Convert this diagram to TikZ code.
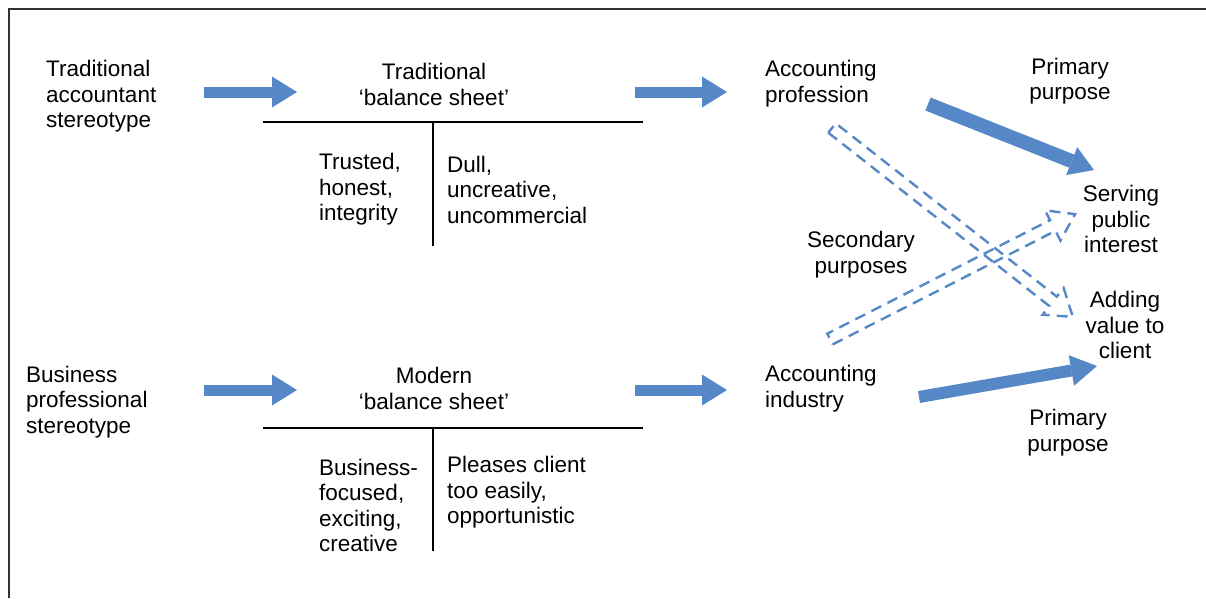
\documentclass[tikz,border=0pt]{standalone}
\usepackage{fontspec}
\setmainfont{Liberation Sans}
\usetikzlibrary{arrows.meta}
\definecolor{arrowblue}{RGB}{86,136,199}
\tikzset{
  txt/.style={inner sep=0pt, font=\fontsize{22.5}{25.5}\selectfont},
  ltxt/.style={txt, anchor=west, align=left},
  ctxt/.style={txt, align=center},
  harrow/.style={draw=arrowblue, line width=11pt,
    -{Triangle[length=25pt,width=31pt,line width=0pt,color=arrowblue]}},
  darrow/.style={draw=arrowblue, line width=14pt,
    -{Triangle[length=24pt,width=30pt,line width=0pt,color=arrowblue]}},
  darrowb/.style={draw=arrowblue, line width=12pt,
    -{Triangle[length=26pt,width=31pt,line width=0pt,color=arrowblue]}},
  hollow/.style={draw=arrowblue, line width=2.4pt, dash pattern=on 11pt off 7pt, line join=miter},
  tline/.style={draw=black, line width=2pt},
  frame/.style={draw=black!80, line width=1.6pt}
}
\begin{document}
\begin{tikzpicture}[x=1pt,y=-1pt]
\useasboundingbox (0,0) rectangle (1206,598);
\draw[frame] (9,598) -- (9,9) -- (1206,9);

% left texts
\node[ltxt] (tas) at (46,96.5) {Traditional\\accountant\\stereotype};
\node[ltxt] (bps) at (26,402) {Business\\professional\\stereotype};

% balance sheets
\node[ctxt] (tbs) at (434,84.5) {Traditional\\‘balance sheet’};
\node[ctxt] (mbs) at (434,388.5) {Modern\\‘balance sheet’};

\coordinate (t1l) at (263,122); \coordinate (t1r) at (643,122);
\coordinate (t1t) at (433,122); \coordinate (t1b) at (433,246);
\draw[tline] (t1l) -- (t1r);
\draw[tline] (t1t) -- (t1b);
\coordinate (t2l) at (263,428); \coordinate (t2r) at (643,428);
\coordinate (t2t) at (433,428); \coordinate (t2b) at (433,551);
\draw[tline] (t2l) -- (t2r);
\draw[tline] (t2t) -- (t2b);

\node[ltxt] (tru) at (319,189.5) {Trusted,\\honest,\\integrity};
\node[ltxt] (dul) at (447,189.5) {Dull,\\uncreative,\\uncommercial};
\node[ltxt] (bus) at (319,505.5) {Business-\\focused,\\exciting,\\creative};
\node[ltxt] (ple) at (447,492.5) {Pleases client\\too easily,\\opportunistic};

% right texts
\node[ltxt] (ap) at (765,83.5) {Accounting\\profession};
\node[ltxt] (ai) at (765,388.5) {Accounting\\industry};
\node[ctxt] (pp1) at (1070,81) {Primary\\purpose};
\node[ctxt] (pp2) at (1068,432.5) {Primary\\purpose};
\node[ctxt] (spi) at (1121,219) {Serving\\public\\interest};
\node[ctxt] (avc) at (1125,325) {Adding\\value to\\client};
\node[ctxt] (sec) at (861,254.5) {Secondary\\purposes};

% horizontal block arrows
\coordinate (h1s) at (204,92);  \coordinate (h1e) at (297,92);
\coordinate (h2s) at (635,92);  \coordinate (h2e) at (727,92);
\coordinate (h3s) at (204,390); \coordinate (h3e) at (297,390);
\coordinate (h4s) at (635,390); \coordinate (h4e) at (727,390);
\draw[harrow] (h1s) -- (h1e);
\draw[harrow] (h2s) -- (h2e);
\draw[harrow] (h3s) -- (h3e);
\draw[harrow] (h4s) -- (h4e);

% primary purpose arrows
\coordinate (p1s) at (928,104); \coordinate (p1e) at (1094,170);
\coordinate (p2s) at (919,397); \coordinate (p2e) at (1097,366);
\draw[darrow] (p1s) -- (p1e);
\draw[darrowb] (p2s) -- (p2e);

% secondary (hollow dashed) arrows
\coordinate (s1s) at (832,128);
\begin{scope}[shift={(s1s)}, rotate=-38.1]
  \draw[hollow] (0,6) -- (281,6) -- (281,17) -- (306,0) -- (281,-17) -- (281,-6) -- (0,-6) -- cycle;
\end{scope}
\coordinate (s2s) at (830,339);
\begin{scope}[shift={(s2s)}, rotate=27.0]
  \draw[hollow] (0,6) -- (250,6) -- (250,17) -- (275,0) -- (250,-17) -- (250,-6) -- (0,-6) -- cycle;
\end{scope}
\end{tikzpicture}
\end{document}
